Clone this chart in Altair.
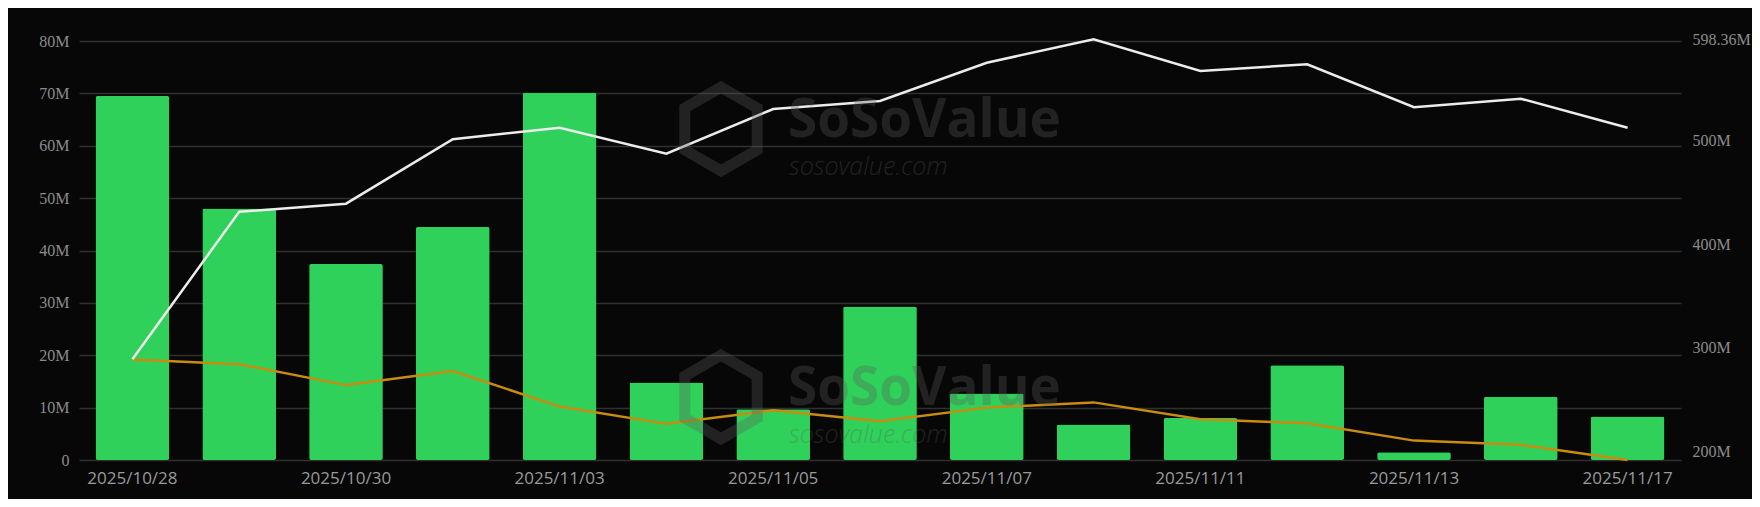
import altair as alt
import pandas as pd

dates = ["2025/10/28", "2025/10/29", "2025/10/30", "2025/10/31", "2025/11/03",
         "2025/11/04", "2025/11/05", "2025/11/06", "2025/11/07", "2025/11/10",
         "2025/11/11", "2025/11/12", "2025/11/13", "2025/11/14", "2025/11/17"]
# daily net inflow (M USD) - green bars, left axis
inflow = [69.5, 48.0, 37.4, 44.5, 70.1, 14.8, 9.7, 29.3, 12.7, 6.8, 8.0, 18.1, 1.5, 12.1, 8.3]
# orange line (M USD), left axis
orange_vals = [19.2, 18.3, 14.3, 17.0, 10.2, 6.9, 9.5, 7.4, 10.0, 11.0, 7.8, 7.0, 3.7, 2.9, 0.0]
# white line (M USD), right axis
white_vals = [288.7, 431.5, 439.3, 501.6, 512.8, 487.7, 530.9, 538.7, 575.7, 598.36,
              567.7, 574.2, 532.6, 540.9, 512.8]
left_ticks = [0, 10, 20, 30, 40, 50, 60, 70, 80]
right_ticks = [200, 300, 400, 500, 598.36]
shown_dates = [d for i, d in enumerate(dates) if i % 2 == 0]

df = pd.DataFrame({"date": dates, "inflow": inflow, "orange": orange_vals, "white": white_vals})

BG = "#070707"
GRID = "#303030"
LABEL = "#8c8c8c"

x_enc = alt.X(
    "date:N", sort=dates,
    scale=alt.Scale(paddingInner=0.31, paddingOuter=0.155),
    axis=alt.Axis(title=None, values=shown_dates, labelAngle=0, ticks=False, tickSize=0,
                  domain=False, grid=False, labelFont="Open Sans", labelFontSize=17,
                  labelColor="#9a9a9a", labelPadding=10),
)

left_y = alt.Y(
    "inflow:Q",
    scale=alt.Scale(domain=[0, 80], nice=False, zero=True),
    axis=alt.Axis(title=None, values=left_ticks, orient="left", ticks=False, tickSize=0,
                  domain=False, grid=True, gridColor=GRID, gridWidth=1.5,
                  labelFont="Liberation Serif", labelFontSize=16, labelColor=LABEL,
                  labelPadding=10,
                  labelExpr="datum.value == 0 ? '0' : datum.value + 'M'"),
)

base = alt.Chart(df)

bars = base.mark_bar(color="#2fd15a", cornerRadius=2).encode(x=x_enc, y=left_y)

orange = base.mark_line(color="#c98c10", strokeWidth=2.5).encode(
    x=x_enc, y=alt.Y("orange:Q")
)

white = base.mark_line(color="#ececec", strokeWidth=2.5).encode(
    x=x_enc,
    y=alt.Y(
        "white:Q",
        scale=alt.Scale(domain=[200, 598.36], range=[410, -1.7], nice=False, zero=False),
        axis=alt.Axis(title=None, orient="right", values=right_ticks, ticks=False, tickSize=0,
                      domain=False, grid=False, labelFont="Liberation Serif",
                      labelFontSize=16, labelColor=LABEL, labelPadding=11,
                      labelExpr="format(datum.value, '.2~f') + 'M'"),
    ),
)

# watermark (decoration)
wm_df = pd.DataFrame({"a": [0]})
hexagon = "M0,-1L0.866,-0.5L0.866,0.5L0,1L-0.866,0.5L-0.866,-0.5Z"
WM = "#5c5c5c"
wm_layers = []
for dy in (0, 268):
    wm_layers.append(alt.Chart(wm_df).mark_text(
        text="SoSoValue", font="Open Sans", fontWeight="bold", fontSize=53,
        align="left", baseline="alphabetic", color=WM, opacity=0.32,
    ).encode(x=alt.value(709), y=alt.value(96 + dy)))
    wm_layers.append(alt.Chart(wm_df).mark_text(
        text="sosovalue.com", font="Open Sans", fontStyle="italic", fontWeight=300,
        fontSize=25, align="left", baseline="alphabetic", color=WM, opacity=0.32,
    ).encode(x=alt.value(710), y=alt.value(134 + dy)))
    wm_layers.append(alt.Chart(wm_df).mark_point(
        shape=hexagon, size=7000, filled=False, stroke=WM, strokeWidth=11,
        opacity=0.32,
    ).encode(x=alt.value(642), y=alt.value(88 + dy)))

left_layer = alt.layer(bars, orange)
chart = alt.layer(left_layer, white, *wm_layers).resolve_scale(y="independent").properties(
    width=1602, height=419,
    padding={"left": 71, "top": 33, "right": 71, "bottom": 39},
    autosize=alt.AutoSizeParams(type="none"),
    background=BG,
).configure_view(stroke=None)

chart.save("out.html", embed_options={"renderer": "svg", "actions": False})
